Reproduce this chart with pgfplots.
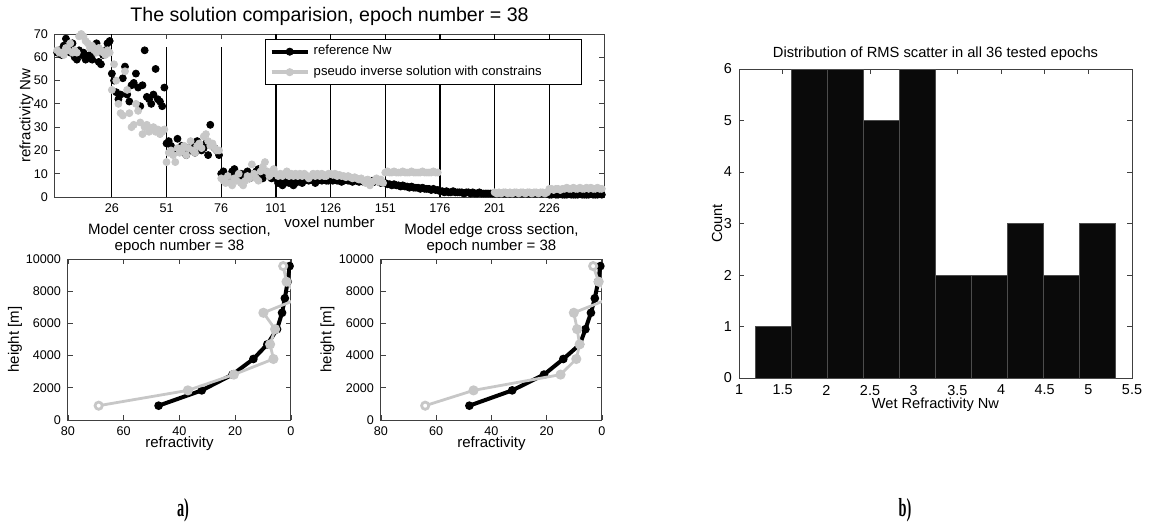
\documentclass[border=0pt]{standalone}
\usepackage{fontspec}
\setmainfont{Liberation Sans}
\newfontfamily\labfont{Liberation Serif}
\usepackage{pgfplots}
\usepackage{pgfplotstable}
\pgfplotsset{compat=1.18}
\definecolor{lg}{gray}{0.78}
\definecolor{ax}{gray}{0.25}
\definecolor{barc}{gray}{0.04}

\pgfplotstableread[row sep=\\]{
i r p\\
1 62 63\\ 2 63 62\\ 3 61 62\\ 4 65 61\\ 5 68 64\\
6 64 63\\ 7 62 66\\ 8 66 62\\ 9 60 63\\ 10 59 62\\
11 63 69\\ 12 61 70\\ 13 62 69\\ 14 59 67\\ 15 60 66\\
16 61 64\\ 17 59 65\\ 18 62 63\\ 19 66 62\\ 20 58 64\\
21 57 63\\ 22 61 62\\ 23 63 61\\ 24 66 63\\ 25 67 62\\
26 53 46\\ 27 50 57\\ 28 45 50\\ 29 42 40\\ 30 44 36\\
31 51 35\\ 32 56 54\\ 33 44 46\\ 34 41 36\\ 35 48 30\\
36 49 31\\ 37 53 40\\ 38 47 37\\ 39 39 32\\ 40 48 27\\
41 63 30\\ 42 43 31\\ 43 42 28\\ 44 40 29\\ 45 44 30\\
46 55 28\\ 47 42 29\\ 48 41 27\\ 49 39 28\\ 50 47 29\\
51 23 15\\ 52 24 19\\ 53 22 20\\ 54 21 18\\ 55 20 15\\
56 25 21\\ 57 21 19\\ 58 22 20\\ 59 19 22\\ 60 18 18\\
61 21 21\\ 62 20 24\\ 63 23 20\\ 64 19 19\\ 65 24 22\\
66 22 23\\ 67 20 21\\ 68 21 26\\ 69 23 27\\ 70 18 24\\
71 31 22\\ 72 22 23\\ 73 21 21\\ 74 20 20\\ 75 18 20\\
76 10 8\\ 77 11 7\\ 78 8 6\\ 79 7 9\\ 80 9 6\\
81 11 5\\ 82 12 8\\ 83 9 7\\ 84 8 10\\ 85 10 6\\
86 9 5\\ 87 10 7\\ 88 11 9\\ 89 8 8\\ 90 9 14\\
91 10 10\\ 92 11 8\\ 93 12 7\\ 94 9 11\\ 95 8 13\\
96 11 15\\ 97 10 11\\ 98 9 9\\ 99 8 10\\ 100 10 12\\
101 8 10\\ 102 6 9\\ 103 7 10\\ 104 5 9\\ 105 6 10\\
106 7 11\\ 107 6 9\\ 108 7 10\\ 109 5 9\\ 110 6 10\\
111 7 9\\ 112 8 10\\ 113 6 9\\ 114 7 10\\ 115 9 9\\
116 7 8\\ 117 8 9\\ 118 7 10\\ 119 6 9\\ 120 7 10\\
121 8 9\\ 122 7 10\\ 123 8 9\\ 124 7 9\\ 125 7 10\\
126 7.5 10\\ 127 7 9.5\\ 128 7.5 10\\ 129 7 9\\ 130 7 9.5\\
131 6.5 9\\ 132 7 9\\ 133 7.5 8.5\\ 134 7 9\\ 135 7 8.5\\
136 6.5 8\\ 137 7 8.5\\ 138 7 8\\ 139 6.5 7.5\\ 140 7 8\\
141 6.5 7\\ 142 7 6\\ 143 6.5 7.5\\ 144 6 5\\ 145 7 6.5\\
146 6.5 7\\ 147 7 8\\ 148 6.5 6.5\\ 149 6 7.5\\ 150 6 6\\
151 6 10.5\\ 152 5.5 11\\ 153 5.5 10.5\\ 154 5 10.5\\ 155 5.5 11\\
156 5 10.5\\ 157 5 10.5\\ 158 4.5 10.5\\ 159 5 11\\ 160 4.5 10.5\\
161 4.5 10.5\\ 162 4 10.5\\ 163 4.5 11\\ 164 4 10.5\\ 165 4 10.5\\
166 4 10.5\\ 167 3.5 10.5\\ 168 4 11\\ 169 3.5 10.5\\ 170 3.5 10.5\\
171 3.5 10.5\\ 172 3 10.5\\ 173 3.5 11\\ 174 3 10.5\\ 175 3 10.5\\
176 2.5 nan\\ 177 2.5 nan\\ 178 2 nan\\ 179 2.5 nan\\ 180 2 nan\\
181 2 nan\\ 182 2.5 nan\\ 183 2 nan\\ 184 2 nan\\ 185 2 nan\\
186 2 nan\\ 187 1.5 nan\\ 188 2 nan\\ 189 2 nan\\ 190 1.5 nan\\
191 2 nan\\ 192 1.5 nan\\ 193 1.5 nan\\ 194 2 nan\\ 195 1.5 nan\\
196 1.5 nan\\ 197 1.5 nan\\ 198 1.5 nan\\ 199 1.5 nan\\ 200 1.5 nan\\
201 1.5 2\\ 202 1.5 1.5\\ 203 1.5 2\\ 204 1.5 1.5\\ 205 1.5 2\\
206 1.5 2\\ 207 1.5 1.5\\ 208 1.5 2\\ 209 1.5 1.5\\ 210 1.5 2\\
211 1.5 2\\ 212 1.5 1.5\\ 213 1.5 2\\ 214 1.5 2\\ 215 1.5 1.5\\
216 1.5 2\\ 217 1.5 2\\ 218 1.5 1.5\\ 219 1.5 2\\ 220 1.5 2\\
221 1.5 1.5\\ 222 1.5 2\\ 223 1.5 2\\ 224 1.5 1.5\\ 225 1.5 2\\
226 1 3.5\\ 227 1 3.5\\ 228 1.2 3\\ 229 1 3.5\\ 230 1 3.5\\
231 1.2 3\\ 232 1 3.5\\ 233 1 3.5\\ 234 1 4\\ 235 1.2 3.5\\
236 1 3.5\\ 237 1 4\\ 238 1 3.5\\ 239 1 3.5\\ 240 1.2 4\\
241 1 3.5\\ 242 1 3.5\\ 243 1 4\\ 244 1 3.5\\ 245 1.2 4\\
246 1 3.5\\ 247 1 3.5\\ 248 1 4\\ 249 1.2 3.5\\ 250 1 3.5\\
}\voxdata

\pgfplotsset{mystyle/.style={
  scale only axis, anchor=south west, clip mode=individual,
  axis line style={ax, line width=0.5pt},
  tick style={ax, line width=0.4pt},
  tick align=inside, major tick length=2.5pt,
  /pgf/number format/assume math mode=true,
  /pgf/number format/1000 sep={},
  scaled ticks=false,
  label style={font=\fontsize{7.5}{8}\selectfont},
  tick label style={font=\fontsize{6.3}{7}\selectfont, text=black},
}}

\begin{document}
\begin{tikzpicture}
\path[use as bounding box] (0pt,0pt) rectangle (575.5pt,263.5pt);

% ---------- top: voxel comparison ----------
\begin{axis}[mystyle, at={(27.5pt,165pt)}, width=274.5pt, height=81.5pt,
  xmin=0, xmax=251, ymin=0, ymax=70,
  xtick={26,51,76,101,126,151,176,201,226}, ytick={0,10,...,70},
  xlabel={voxel number}, xlabel style={at={(axis description cs:0.5,-0.155)}, anchor=center},
  ylabel={refractivity Nw}, ylabel style={at={(axis description cs:-0.052,0.5)}, anchor=center},
  legend style={at={(0.96,0.969)}, anchor=north east, draw=black, fill=white,
    font=\fontsize{6.55}{7.5}\selectfont, inner xsep=2pt, inner ysep=1pt},
  legend cell align=left]
\addplot[ycomb, black, line width=0.6pt, no markers, forget plot] coordinates {
  (26,70) (51,64.5) (76,64.5) (101,70) (126,70) (151,70) (176,70) (201,70) (226,70)};
\addplot[only marks, mark=*, mark size=1.75pt, black,
  legend image code/.code={\draw[black, line width=2pt] (0pt,0pt) -- (18pt,0pt); \fill[black] (9pt,0pt) circle (1.8pt);}]
  table[x=i, y=r] {\voxdata};
\addlegendentry{reference Nw}
\addplot[only marks, mark=*, mark size=1.75pt, lg,
  legend image code/.code={\draw[lg, line width=2pt] (0pt,0pt) -- (18pt,0pt); \fill[lg] (9pt,0pt) circle (1.8pt);}]
  table[x=i, y=p] {\voxdata};
\addlegendentry{pseudo inverse solution with constrains\rule{16pt}{0pt}}
\node[font=\fontsize{9.8}{11}\selectfont, anchor=base] at (axis description cs:0.5,1.074) {The solution comparision, epoch number = 38};
\end{axis}

% ---------- bottom left: center cross section ----------
\begin{axis}[mystyle, at={(34pt,53.5pt)}, width=111.5pt, height=80.5pt,
  x dir=reverse, xmin=0, xmax=80, ymin=0, ymax=10000,
  xtick={0,20,40,60,80}, ytick={0,2000,4000,6000,8000,10000},
  xlabel={refractivity}, xlabel style={at={(axis description cs:0.5,-0.149)}, anchor=center},
  ylabel={height [m]}, ylabel style={at={(axis description cs:-0.238,0.5)}, anchor=center}]
\addplot[black, line width=2pt, mark=*, mark size=1.1pt] coordinates {
  (47.5,890) (32,1840) (21,2820) (13.5,3790) (8.5,4700) (5,5640) (3.2,6660) (2.2,7560) (1.2,8590) (0.5,9560)};
\addplot[lg, line width=1.4pt, mark=*, mark size=1.8pt] coordinates {
  (69,890) (37,1840) (20.5,2820) (6.3,3790) (7.5,4700) (5.7,5640) (9.9,6660) (-3,7560) (1.6,8590) (2.8,9560)};
\addplot[only marks, mark=*, mark size=1.6pt, mark options={fill=white, draw=lg, line width=1pt}] coordinates {
  (69,890) (2.8,9560)};
\node[font=\fontsize{7.5}{7.8}\selectfont, align=center, anchor=south, inner sep=0pt] at (axis description cs:0.5,1.031) {Model center cross section,\\epoch number = 38};
\end{axis}

% ---------- bottom right: edge cross section ----------
\begin{axis}[mystyle, at={(190.5pt,53.5pt)}, width=110.5pt, height=80.5pt,
  x dir=reverse, xmin=0, xmax=80, ymin=0, ymax=10000,
  xtick={0,20,40,60,80}, ytick={0,2000,4000,6000,8000,10000},
  xlabel={refractivity}, xlabel style={at={(axis description cs:0.5,-0.149)}, anchor=center},
  ylabel={height [m]}, ylabel style={at={(axis description cs:-0.242,0.5)}, anchor=center}]
\addplot[black, line width=2pt, mark=*, mark size=1.1pt] coordinates {
  (48,890) (32.5,1840) (21,2820) (14,3790) (8,4700) (6,5640) (4,6660) (2.6,7560) (1.4,8590) (0.6,9560)};
\addplot[lg, line width=1.4pt, mark=*, mark size=1.8pt] coordinates {
  (64,890) (46.5,1840) (15,2820) (9.3,3790) (8.1,4700) (9,5640) (10.2,6660) (-3,7560) (1.2,8590) (3.2,9560)};
\addplot[only marks, mark=*, mark size=1.6pt, mark options={fill=white, draw=lg, line width=1pt}] coordinates {
  (64,890) (3.2,9560)};
\node[font=\fontsize{7.5}{7.8}\selectfont, align=center, anchor=south, inner sep=0pt] at (axis description cs:0.5,1.031) {Model edge cross section,\\epoch number = 38};
\end{axis}

% ---------- right: histogram ----------
\begin{axis}[mystyle, at={(369.5pt,74.5pt)}, width=196.5pt, height=154.5pt,
  xmin=1, xmax=5.5, ymin=0, ymax=6,
  xtick={1,1.5,2,2.5,3,3.5,4,4.5,5,5.5}, ytick={0,1,2,3,4,5,6},
  tick label style={font=\fontsize{7.2}{8}\selectfont},
  label style={font=\fontsize{7.3}{8}\selectfont},
  xlabel={Wet Refractivity Nw}, xlabel style={at={(axis description cs:0.5,-0.088)}, anchor=center},
  ylabel={Count}, ylabel style={at={(axis description cs:-0.056,0.5)}, anchor=center}]
\addplot[ybar interval, fill=barc, draw=black!70, line width=0.4pt] coordinates {
  (1.19,1) (1.6025,6) (2.015,6) (2.4275,5) (2.84,6) (3.2525,2) (3.665,2) (4.0775,3) (4.49,2) (4.9025,3) (5.315,3)};
\node[font=\fontsize{7.35}{8}\selectfont, anchor=base] at (axis description cs:0.5,1.036) {Distribution of RMS scatter in all 36 tested epochs};
\end{axis}

\node[font=\labfont\bfseries\fontsize{13}{13}\selectfont, xscale=0.55] at (91.5pt,8.5pt) {a)};
\node[font=\labfont\bfseries\fontsize{13}{13}\selectfont, xscale=0.55] at (452.5pt,8.5pt) {b)};
\end{tikzpicture}
\end{document}
